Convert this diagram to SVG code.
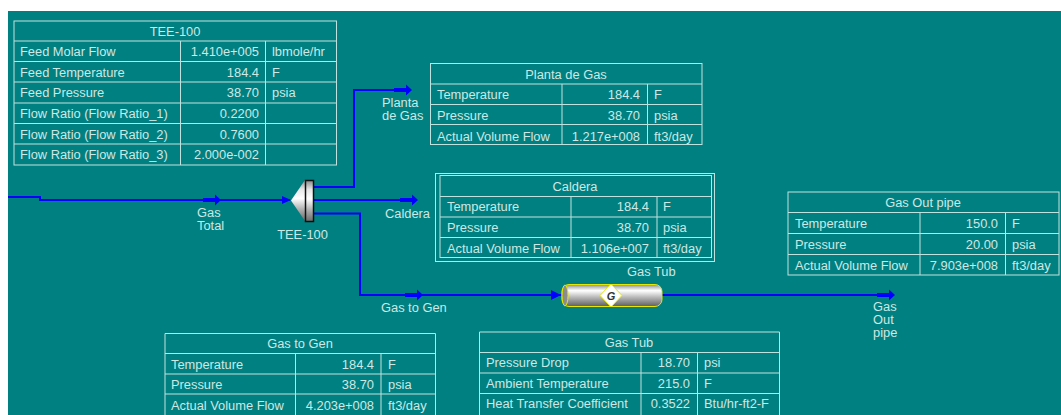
<svg xmlns="http://www.w3.org/2000/svg" width="1061" height="415" viewBox="0 0 1061 415">
<style>
text{font-family:"Liberation Sans",Arial,sans-serif;font-size:12.85px;fill:#cde8e5}
.e{text-anchor:end}.m{text-anchor:middle}
.tb{fill:none;stroke:#c0e2de;stroke-width:1}
.st{fill:none;stroke:#0000ff;stroke-width:2}
.ah{fill:#0000ff}
</style>
<defs>
<linearGradient id="cone" x1="0" y1="0" x2="0" y2="1"><stop offset="0" stop-color="#8a8a8a"/><stop offset=".22" stop-color="#e6e6e6"/><stop offset=".45" stop-color="#ffffff"/><stop offset=".7" stop-color="#b4b4b4"/><stop offset="1" stop-color="#6a6a6a"/></linearGradient>
<linearGradient id="tub" x1="0" y1="0" x2="0" y2="1"><stop offset="0" stop-color="#8e8e8e"/><stop offset=".28" stop-color="#ffffff"/><stop offset=".6" stop-color="#b4b4b4"/><stop offset="1" stop-color="#5e5e5e"/></linearGradient>
<path id="arr" d="M-18-2h12v-3.500l6 5.500-6 5.500v-3.500h-12z"/>
</defs>
<rect width="1061" height="415" fill="#fff"/>
<rect x="8" y="11" width="1053" height="404" fill="#008080"/>

<g id="connectors">
<path class="st" d="M8 197H40V200H290"/>
<path class="st" d="M313 187H354V90H411"/>
<path class="st" d="M313 200H417"/>
<path class="st" d="M313 213.500H360V295H562"/>
<path class="st" d="M661 295H894"/>
<use href="#arr" class="ah" x="221" y="200"/>
<use href="#arr" class="ah" x="412" y="90"/>
<use href="#arr" class="ah" x="418" y="200"/>
<use href="#arr" class="ah" x="423" y="295"/>
<use href="#arr" class="ah" x="895" y="295"/>
<path class="ah" d="M282 196l9 4-9 4z"/>
<path class="ah" d="M551 290l10 5-10 5z"/>
</g>

<g id="tee-100-node">
<path d="M291 200.500L305 180V221Z" fill="url(#cone)"/>
<rect x="305.500" y="180.500" width="8" height="41" fill="url(#cone)" stroke="#111" stroke-width="1.500"/>
<text class="m" x="302.500" y="238.500">TEE-100</text>
</g>
<g id="gas-total-label"><text x="197" y="216.500">Gas</text><text x="197" y="229.500">Total</text></g>
<g id="planta-label"><text x="382" y="106.500">Planta</text><text x="382" y="119.500">de Gas</text></g>
<g id="caldera-label"><text x="385" y="217.500">Caldera</text></g>
<g id="gastogen-label"><text x="381" y="311.500">Gas to Gen</text></g>
<g id="gasout-label"><text x="873" y="311">Gas</text><text x="873" y="324">Out</text><text x="873" y="337">pipe</text></g>

<g id="gas-tub-node">
<rect x="562" y="284.500" width="100" height="22" rx="7" fill="url(#tub)" stroke="#e6e600" stroke-width="1"/>
<ellipse cx="565" cy="295.500" rx="3" ry="10.500" fill="#8c8c8c" stroke="#e6e600" stroke-width="1"/>
<path d="M611 284l11 11.500-11 11.500-11-11.500z" fill="#fff" stroke="#e6e600" stroke-width="1"/>
<text class="m" x="611" y="299.500" style="font-size:11px;font-weight:bold;font-style:italic;fill:#333">G</text>
<text x="627" y="276">Gas Tub</text>
</g>

<g id="table-tee-100">
<rect class="tb" x="14" y="21" width="322.500" height="144"/>
<path class="tb" d="M14 41H336M14 61.500H336M14 82H336M14 103H336M14 123.500H336M14 144H336M180.500 41V165M265.500 41V165"/>
<text class="m" x="175" y="35.500">TEE-100</text>
<text x="20" y="55.500">Feed Molar Flow</text><text class="e" x="259" y="55.500">1.410e+005</text><text x="272" y="55.500">lbmole/hr</text>
<text x="20" y="76.500">Feed Temperature</text><text class="e" x="259" y="76.500">184.4</text><text x="272" y="76.500">F</text>
<text x="20" y="96.500">Feed Pressure</text><text class="e" x="259" y="96.500">38.70</text><text x="272" y="96.500">psia</text>
<text x="20" y="117.500">Flow Ratio (Flow Ratio_1)</text><text class="e" x="259" y="117.500">0.2200</text>
<text x="20" y="138.500">Flow Ratio (Flow Ratio_2)</text><text class="e" x="259" y="138.500">0.7600</text>
<text x="20" y="158.500">Flow Ratio (Flow Ratio_3)</text><text class="e" x="259" y="158.500">2.000e-002</text>
</g>

<g id="table-planta">
<rect class="tb" x="430.500" y="63.500" width="271.500" height="81"/>
<path class="tb" d="M430 84H702M430 104.500H702M430 124.500H702M562 84V145M647.500 84V145"/>
<text class="m" x="566" y="78.500">Planta de Gas</text>
<text x="437" y="98.500">Temperature</text><text class="e" x="640" y="98.500">184.4</text><text x="654" y="98.500">F</text>
<text x="437" y="119.500">Pressure</text><text class="e" x="640" y="119.500">38.70</text><text x="654" y="119.500">psia</text>
<text x="437" y="140.500">Actual Volume Flow</text><text class="e" x="640" y="140.500">1.217e+008</text><text x="654" y="140.500">ft3/day</text>
</g>

<g id="table-caldera">
<rect class="tb" x="435.500" y="173.500" width="279" height="88"/>
<rect class="tb" x="440" y="175.500" width="271.500" height="82"/>
<path class="tb" d="M440 196.500H712M440 217H712M440 237.500H712M571 196.500V258M657 196.500V258"/>
<text class="m" x="575" y="190.500">Caldera</text>
<text x="447" y="210.500">Temperature</text><text class="e" x="649" y="210.500">184.4</text><text x="663" y="210.500">F</text>
<text x="447" y="231.500">Pressure</text><text class="e" x="649" y="231.500">38.70</text><text x="663" y="231.500">psia</text>
<text x="447" y="253">Actual Volume Flow</text><text class="e" x="649" y="253">1.106e+007</text><text x="663" y="253">ft3/day</text>
</g>

<g id="table-gas-out">
<rect class="tb" x="788" y="192" width="271" height="83"/>
<path class="tb" d="M788 212.500H1059M788 233.500H1059M788 254.500H1059M920 212.500V275M1005.500 212.500V275"/>
<text class="m" x="923" y="206.500">Gas Out pipe</text>
<text x="795" y="227.500">Temperature</text><text class="e" x="998" y="227.500">150.0</text><text x="1012" y="227.500">F</text>
<text x="795" y="248.500">Pressure</text><text class="e" x="998" y="248.500">20.00</text><text x="1012" y="248.500">psia</text>
<text x="795" y="269.500">Actual Volume Flow</text><text class="e" x="998" y="269.500">7.903e+008</text><text x="1012" y="269.500">ft3/day</text>
</g>

<g id="table-gas-to-gen">
<path class="tb" d="M165 415V333.500H435.500V415"/>
<path class="tb" d="M165 353.500H435.500M165 374H435.500M165 394H435.500M295.500 353.500V415M381 353.500V415"/>
<text class="m" x="300" y="348">Gas to Gen</text>
<text x="171" y="368.500">Temperature</text><text class="e" x="374" y="368.500">184.4</text><text x="388" y="368.500">F</text>
<text x="171" y="388.500">Pressure</text><text class="e" x="374" y="388.500">38.70</text><text x="388" y="388.500">psia</text>
<text x="171" y="409.500">Actual Volume Flow</text><text class="e" x="374" y="409.500">4.203e+008</text><text x="388" y="409.500">ft3/day</text>
</g>

<g id="table-gas-tub">
<path class="tb" d="M479.500 415V332H779.500V415"/>
<path class="tb" d="M479.500 352.500H779.500M479.500 373H779.500M479.500 393.500H779.500M641 352.500V415M697.500 352.500V415"/>
<text class="m" x="629" y="346.500">Gas Tub</text>
<text x="486" y="366.500">Pressure Drop</text><text class="e" x="690" y="366.500">18.70</text><text x="704" y="366.500">psi</text>
<text x="486" y="388">Ambient Temperature</text><text class="e" x="690" y="388">215.0</text><text x="704" y="388">F</text>
<text x="486" y="408">Heat Transfer Coefficient</text><text class="e" x="690" y="408">0.3522</text><text x="704" y="408">Btu/hr-ft2-F</text>
</g>
</svg>
